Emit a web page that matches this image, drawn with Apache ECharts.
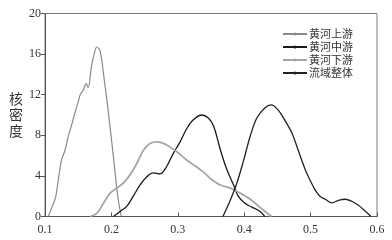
<!DOCTYPE html>
<html><head><meta charset="utf-8">
<script src="https://cdn.jsdelivr.net/npm/echarts@6/dist/echarts.min.js"></script>
<style>html,body{margin:0;padding:0;background:#fff}#c{width:392px;height:240px}</style>
</head><body><div id="c"></div>
<script>
var seriesNames = ['黄河上游','黄河中游','黄河下游','流域整体'];
var upperX = [0.105,0.111,0.116,0.120,0.125,0.130,0.135,0.140,0.145,0.150,0.153,0.158,0.162,0.165,0.170,0.174,0.178,0.183,0.188,0.195,0.203,0.210,0.215];
var upperY = [0,1.0,1.9,3.6,5.6,6.5,7.9,9.0,10.2,11.3,12.0,12.5,13.1,12.7,14.8,16.0,16.7,16.3,14.1,10.5,5.9,1.8,0];
var middleX = [0.203,0.213,0.223,0.233,0.243,0.253,0.263,0.273,0.283,0.293,0.303,0.313,0.323,0.336,0.346,0.354,0.364,0.374,0.384,0.391,0.401,0.411,0.424,0.431];
var middleY = [0,0.5,1.0,2.0,3.1,3.9,4.3,4.2,4.9,6.2,7.3,8.6,9.5,10.0,9.7,8.9,6.6,4.6,3.1,2.0,1.3,0.95,0.5,0];
var lowerX = [0.168,0.178,0.188,0.198,0.208,0.218,0.228,0.238,0.248,0.258,0.270,0.283,0.298,0.313,0.328,0.340,0.350,0.364,0.379,0.394,0.409,0.424,0.441];
var lowerY = [0,0.3,1.3,2.3,2.8,3.3,4.1,5.2,6.5,7.2,7.35,7.05,6.4,5.6,4.9,4.3,3.7,3.1,2.8,2.3,1.7,0.9,0];
var wholeX = [0.368,0.379,0.389,0.399,0.409,0.419,0.431,0.441,0.451,0.461,0.472,0.482,0.492,0.499,0.507,0.514,0.522,0.532,0.542,0.552,0.562,0.572,0.582,0.591];
var wholeY = [0,1.6,3.3,5.5,7.9,9.7,10.7,11.0,10.5,9.5,8.2,6.4,4.6,3.6,2.6,2.0,1.7,1.35,1.6,1.7,1.5,1.1,0.55,0];
var xTicks = [0.1,0.2,0.3,0.4,0.5,0.6];
var yTicks = [0,4,8,12,16,20];

function pairs(xs, ys){ return xs.map(function(x,i){ return [x, ys[i]]; }); }
var serif = '"Liberation Serif","DejaVu Serif",serif';
var cjk = '"Noto Sans CJK SC",sans-serif';
var colors = ['#8a8a8a','#1a1a1a','#a6a6a6','#222222'];
var widths = [1.2,1.3,1.8,1.3];
var dataSets = [pairs(upperX,upperY), pairs(middleX,middleY), pairs(lowerX,lowerY), pairs(wholeX,wholeY)];

var chart = echarts.init(document.getElementById('c'), null, {renderer:'canvas'});
chart.setOption({
  animation:false,
  backgroundColor:'#fff',
  grid:{left:45,right:15,top:13.5,bottom:23.5,show:true,borderColor:'#7a7a7a',borderWidth:1},
  legend:{
    orient:'vertical', left:277, top:23, itemWidth:24, itemHeight:4, itemGap:1,
    textStyle:{fontFamily:cjk,fontSize:11,color:'#333',lineHeight:12,padding:[0,0,0,-3]},
    data:seriesNames
  },
  xAxis:{
    type:'value', min:0.1, max:0.6, interval:0.1,
    axisLine:{lineStyle:{color:'#555',width:1}},
    axisTick:{inside:true,length:4,lineStyle:{color:'#555'}},
    axisLabel:{fontFamily:serif,fontSize:12,color:'#333',margin:7,formatter:function(v){return String(Math.round(v*10)/10);}},
    splitLine:{show:false}
  },
  yAxis:{
    type:'value', min:0, max:20, interval:4,
    name:'核\n密\n度', nameLocation:'middle', nameRotate:0, nameGap:28,
    nameTextStyle:{fontFamily:cjk,fontSize:14,color:'#333',lineHeight:16,align:'center'},
    axisLine:{show:true,lineStyle:{color:'#555',width:1}},
    axisTick:{show:true,inside:false,length:4,lineStyle:{color:'#555'}},
    axisLabel:{fontFamily:serif,fontSize:12,color:'#333',margin:4},
    splitLine:{show:false}
  },
  series: seriesNames.map(function(n,i){
    return {
      name:n, type:'line', data:dataSets[i], smooth:0.35,
      showSymbol:false, symbol:'circle', symbolSize:3,
      itemStyle:{color:colors[i]},
      lineStyle:{color:colors[i],width:widths[i]}
    };
  })
});
</script></body></html>
